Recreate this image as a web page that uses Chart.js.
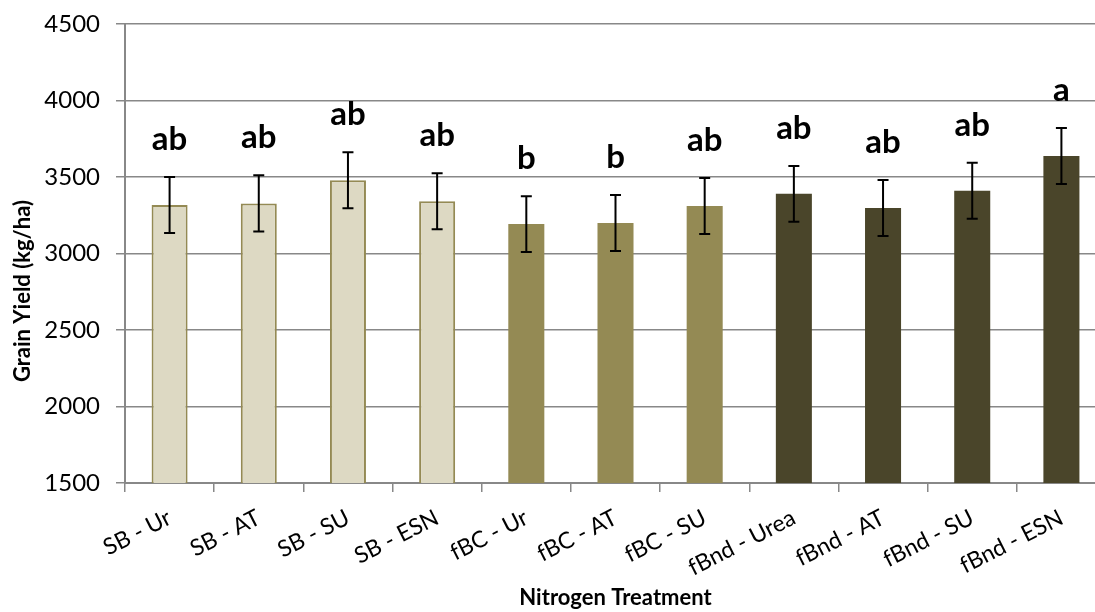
<!DOCTYPE html>
<html>
<head>
<meta charset="utf-8">
<script src="https://cdn.jsdelivr.net/npm/chart.js@4.4.0/dist/chart.umd.min.js"></script>
<style>
  html, body { margin: 0; padding: 0; background: #fff; overflow: hidden; }
  #wrap { width: 1106px; height: 612px; }
</style>
</head>
<body>
<div id="wrap"><canvas id="myChartYield" width="1106" height="612"></canvas></div>
<script>
// Categories and values
const treatments = [
  "SB - Ur",
  "SB - AT",
  "SB - SU",
  "SB - ESN",
  "fBC - Ur",
  "fBC - AT",
  "fBC - SU",
  "fBnd - Urea",
  "fBnd - AT",
  "fBnd - SU",
  "fBnd - ESN",
];
const grainYield = [3317, 3327, 3478, 3341, 3192, 3200, 3311, 3390, 3298, 3410, 3638];
const yieldError = [183, 184, 183, 183, 183, 183, 183, 182, 183, 183, 183];
const letters = ["ab", "ab", "ab", "ab", "b", "b", "ab", "ab", "ab", "ab", "a"];
const yTicks = [1500, 2000, 2500, 3000, 3500, 4000, 4500];

// Colours by placement group
const fills = { SB: "#DDD9C3", fBC: "#948A54", fBnd: "#4A452A" };
const barFill = treatments.map((t) => fills[t.split(" ")[0]]);
const barBorder = treatments.map((t) => (t.startsWith("SB") ? "#948A54" : "rgba(0,0,0,0)"));
const barBorderWidth = treatments.map((t) => (t.startsWith("SB") ? 2 : 0));

const FONT = "Lato, 'Open Sans', sans-serif";

// Error bars plus the significance letters above them
const errorBars = {
  id: "errorBars",
  afterDatasetsDraw(chart) {
    const { ctx, scales } = chart;
    const meta = chart.getDatasetMeta(0);
    ctx.save();
    ctx.strokeStyle = "#000";
    ctx.lineWidth = 2;
    meta.data.forEach((bar, i) => {
      const top = scales.y.getPixelForValue(grainYield[i] + yieldError[i]);
      const bot = scales.y.getPixelForValue(grainYield[i] - yieldError[i]);
      ctx.beginPath();
      ctx.moveTo(bar.x, top);
      ctx.lineTo(bar.x, bot);
      ctx.moveTo(bar.x - 5.5, top);
      ctx.lineTo(bar.x + 5.5, top);
      ctx.moveTo(bar.x - 5.5, bot);
      ctx.lineTo(bar.x + 5.5, bot);
      ctx.stroke();

      ctx.fillStyle = "#000";
      ctx.font = "bold 33px " + FONT;
      ctx.textAlign = "center";
      ctx.textBaseline = "alphabetic";
      ctx.fillText(letters[i], bar.x, top - 27);
    });
    ctx.restore();
  },
};

// Y axis title, placed like the Excel original
const yTitle = {
  id: "yTitle",
  afterDraw(chart) {
    const { ctx } = chart;
    ctx.save();
    ctx.translate(23, 291);
    ctx.rotate(-Math.PI / 2);
    ctx.fillStyle = "#000";
    ctx.font = "bold 22px " + FONT;
    ctx.textAlign = "center";
    ctx.textBaseline = "middle";
    ctx.fillText("Grain Yield (kg/ha)", 0, 0);
    ctx.restore();
  },
};

const ctx = document.getElementById("myChartYield").getContext("2d");
new Chart(ctx, {
  type: "bar",
  data: {
    labels: treatments,
    datasets: [
      {
        label: "Grain Yield",
        data: grainYield,
        backgroundColor: barFill,
        borderColor: barBorder,
        borderWidth: barBorderWidth,
        barPercentage: 0.404,
        categoryPercentage: 1,
      },
    ],
  },
  options: {
    responsive: false,
    animation: false,
    layout: { padding: { top: 24, right: 0, bottom: 0, left: 0 } },
    plugins: {
      legend: { display: false },
      tooltip: { enabled: false },
    },
    scales: {
      x: {
        afterFit: (s) => { s.height = 129; s.paddingLeft = 0; s.paddingRight = 0; },
        grid: {
          offset: true,
          drawOnChartArea: false,
          drawTicks: true,
          tickLength: 9,
          color: "#888",
          lineWidth: 1.5,
        },
        border: { color: "#888", width: 2 },
        ticks: {
          maxRotation: 27,
          minRotation: 27,
          padding: 12,
          color: "#000",
          font: { family: FONT, size: 23 },
        },
        title: {
          display: true,
          text: "Nitrogen Treatment",
          color: "#000",
          font: { family: FONT, size: 22, weight: "bold" },
          padding: { top: 0, bottom: 1 },
        },
      },
      y: {
        min: 1500,
        max: 4500,
        afterFit: (s) => { s.width = 125; s.paddingTop = 0; s.paddingBottom = 0; },
        afterBuildTicks: (s) => { s.ticks = yTicks.map((v) => ({ value: v })); },
        grid: {
          color: "#888",
          lineWidth: 1.5,
          tickLength: 9,
        },
        border: { color: "#888", width: 2 },
        ticks: {
          padding: 16,
          color: "#000",
          font: { family: FONT, size: 24 },
          callback: (v) => String(v),
        },
      },
    },
  },
  plugins: [errorBars, yTitle],
});
</script>
</body>
</html>
